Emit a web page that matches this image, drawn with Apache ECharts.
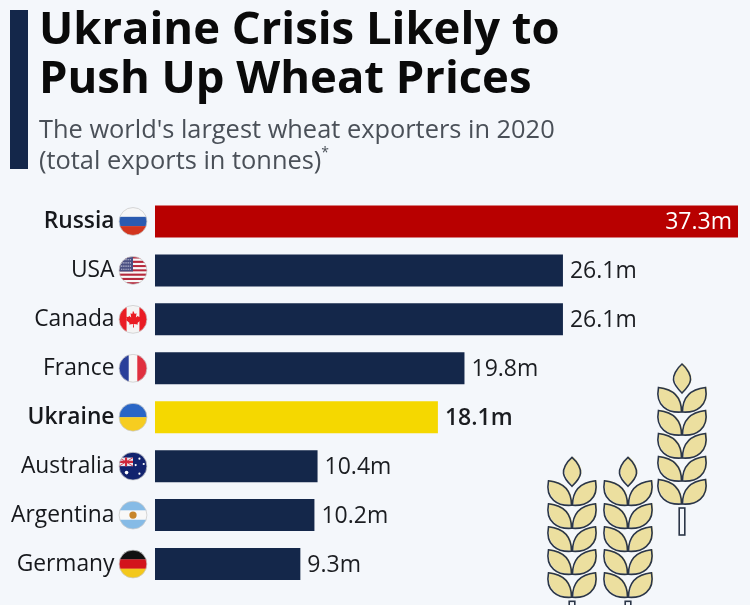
<!DOCTYPE html>
<html><head><meta charset="utf-8">
<style>html,body{margin:0;padding:0;background:#f4f7fb}#c{width:750px;height:605px}</style>
<script src="https://cdn.jsdelivr.net/npm/echarts@6/dist/echarts.min.js"></script>
</head><body><div id="c"></div>
<script>
const categories = ['Russia','USA','Canada','France','Ukraine','Australia','Argentina','Germany'];
const exportsMillions = [37.3,26.1,26.1,19.8,18.1,10.4,10.2,9.3];
const highlighted = ['Russia','Ukraine'];
const barColors = {Russia:'#b80000',Ukraine:'#f5d800'};
const navy = '#14274a';

function stripes(n,colors){let s='';const h=26/n;for(let i=0;i<n;i++)s+=`<rect x="0" y="${i*h}" width="26" height="${h+0.2}" fill="${colors[i%colors.length]}"/>`;return s;}
const flagArt = {
 Russia: stripes(3,['#f7f7f7','#2b5bb0','#d2351e']),
 USA: stripes(13,['#b5283c','#f8f8f8'])+'<rect width="13" height="14" fill="#4a4f82"/><path d="M2 3h9M2 6h9M2 9h9M2 12h9" stroke="#d8d8e8" stroke-width="1" stroke-dasharray="1 1"/>',
 Canada: '<rect width="26" height="26" fill="#f4f4f4"/><rect width="7" height="26" fill="#ea1c24"/><rect x="19" width="7" height="26" fill="#ea1c24"/><path d="M13 5l1.7 3 1.6-.8-.6 4 2-1.6.6 1.3 2.2-.4-.7 2.3 1 .6-3.6 3 .4 1.5-3.8-.5.2 3.2h-1l.2-3.2-3.8.5.4-1.5-3.6-3 1-.6-.7-2.3 2.2.4.6-1.3 2 1.6-.6-4 1.6.8z" fill="#ea1c24"/>',
 France: '<rect width="26" height="26" fill="#f7f7f7"/><rect width="9" height="26" fill="#2a3f9a"/><rect x="17" width="9" height="26" fill="#e0303f"/>',
 Ukraine: stripes(2,['#2a66c6','#f6cd20']),
 Australia: '<rect width="26" height="26" fill="#12236e"/><rect y="5" width="13" height="8" fill="#e8e8f0"/><path d="M0 9h13M6.5 5v8" stroke="#d0283c" stroke-width="2"/><path d="M0 5l13 8M13 5L0 13" stroke="#d0283c" stroke-width=".8"/><g fill="#fff"><circle cx="7" cy="19" r="1.7"/><circle cx="19" cy="6" r="1"/><circle cx="19" cy="20" r="1"/><circle cx="15.5" cy="12" r="1"/><circle cx="23" cy="11" r="1"/></g>',
 Argentina: stripes(3,['#86bbe6','#f8f8f8','#86bbe6'])+'<circle cx="13" cy="13" r="3.4" fill="#c8852a"/>',
 Germany: stripes(3,['#111111','#d3141c','#f3c81c'])
};
const flagUri = name => 'data:image/svg+xml;charset=utf-8,'+encodeURIComponent(
 `<svg xmlns="http://www.w3.org/2000/svg" width="108" height="108" viewBox="-1 -1 28 28"><defs><clipPath id="k"><circle cx="13" cy="13" r="13"/></clipPath></defs><g clip-path="url(#k)">${flagArt[name]}</g><circle cx="13" cy="13" r="13" fill="none" stroke="#c9c9c9" stroke-width=".7"/></svg>`);

const leafL = 'M-23.5,-24.5 C-10,-23 -0.5,-16 -0.5,0 C-14,1 -27,-6 -23.5,-24.5 Z';
const leafR = 'M23.5,-24.5 C10,-23 0.5,-16 0.5,0 C14,1 27,-6 23.5,-24.5 Z';
const grain = 'M0,-48 C6,-43 9,-36 8.5,-32 C8,-27 3,-22 0,-19 C-3,-22 -8,-27 -8.5,-32 C-9,-36 -6,-43 0,-48 Z';
function wheatUri(){
  let s='';
  const add=(d,oy)=>{
    s+=`<path d="${d}" transform="translate(1,${oy-.6})" fill="#ecdf9f"/>`;
    s+=`<path d="${d}" transform="translate(0,${oy})" fill="none" stroke="#2b3648" stroke-width="1.6"/>`;
  };
  add(grain,68);
  for(let i=0;i<5;i++){add(leafL,68+i*23);add(leafR,68+i*23);}
  s+=`<rect x="-2.8" y="${144+20}" width="5.6" height="27" fill="none" stroke="#2b3648" stroke-width="1.6"/>`;
  return 'data:image/svg+xml;charset=utf-8,'+encodeURIComponent(
   `<svg xmlns="http://www.w3.org/2000/svg" width="240" height="800" viewBox="-30 0 60 200">${s}</svg>`);
}
const wheatImg = wheatUri();
const wheat = (x,y)=>({type:'image',x:x-30,y:y-20,silent:true,style:{image:wheatImg,width:60,height:200}});

const chart = echarts.init(document.getElementById('c'),null,{renderer:'canvas'});
chart.setOption({
 animation:false,
 backgroundColor:'#f4f7fb',
 title:[
  {text:'Ukraine Crisis Likely to\nPush Up Wheat Prices',left:34,top:1.5,textStyle:{fontFamily:'Open Sans',fontWeight:'bold',fontSize:45.4,lineHeight:49,color:'#0a0a0a'}},
  {text:"The world's largest wheat exporters in 2020\n(total exports in tonnes){s|*}",left:34,top:110.5,
   textStyle:{fontFamily:'Open Sans',fontWeight:'normal',fontSize:25.4,lineHeight:31,color:'#4a5058',rich:{s:{fontFamily:'Open Sans',fontSize:14,color:'#4a5058',verticalAlign:'top',lineHeight:31,padding:[0,0,10,0]}}}}
 ],
 grid:{left:155,right:12,top:197,height:391.5},
 xAxis:{type:'value',min:0,max:37.3,show:false},
 yAxis:{type:'category',inverse:true,
  data:categories.map(c=>({value:c,textStyle:highlighted.includes(c)?{fontWeight:600}:{}})),
  axisLine:{show:false},axisTick:{show:false},
  axisLabel:{margin:40.5,fontFamily:'Open Sans',fontSize:22.8,color:'#16181c'}},
 series:[
  {type:'bar',barWidth:32,
   data:exportsMillions.map((v,i)=>{
    const c=categories[i];
    const item={value:v,itemStyle:{color:barColors[c]||navy}};
    if(c==='Russia')item.label={position:'insideRight',color:'#fff',distance:6};
    if(c==='Ukraine')item.label={fontWeight:600};
    return item;}),
   label:{show:true,position:'right',distance:7,offset:[0,1],formatter:p=>p.value+'m',fontFamily:'Open Sans',fontSize:23,color:'#1b1d21'}},
  {type:'custom',clip:false,silent:true,
   data:categories.map((c,i)=>[0,i]),
   encode:{x:0,y:1},
   renderItem:(params,api)=>{
    const p=api.coord([0,api.value(1)]);
    const s=30;
    return {type:'image',style:{image:flagUri(categories[params.dataIndex]),x:p[0]-22-s/2,y:p[1]-s/2,width:s,height:s}};
   }}
 ],
 graphic:[
  {type:'rect',shape:{x:10,y:10,width:18,height:159},style:{fill:navy},silent:true},
  wheat(682,364),wheat(572,457.3),wheat(628,457.3)
 ]
});
</script></body></html>
